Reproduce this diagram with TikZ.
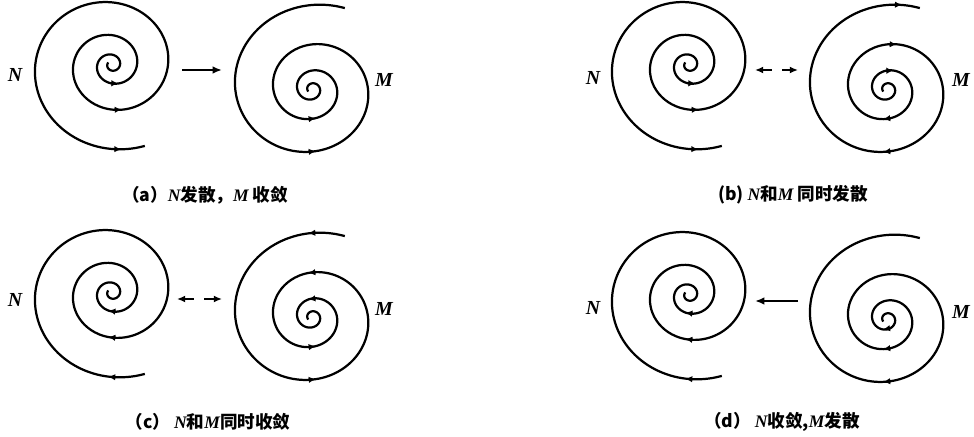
\documentclass[tikz,border=0pt]{standalone}
\usepackage{fontspec}
\setmainfont{Liberation Serif}
\newfontfamily\cjk{Noto Sans CJK SC}
\usetikzlibrary{arrows.meta}

% radius of a spiral after #1 turns
\newcommand{\rad}[1]{(8+10*(#1)+7*(#1)*(#1))}
% spiral round (#1,#2); #3 = 1 opens anticlockwise (N), -1 mirrored (M)
\newcommand{\spiral}[3]{%
  \draw[curve] plot[domain=-0.6:2.81, samples=220, smooth]
    ({#1+\rad{\x}*cos(360*\x)}, {#2+#3*0.95*\rad{\x}*sin(360*\x)});}
% arrow tip on a spiral at turn #4, #5 > 0 outwards, #5 < 0 inwards
\newcommand{\spiraltip}[5]{%
  \pgfmathsetmacro{\ta}{#4-(#5)/\rad{#4}}%
  \pgfmathsetmacro{\tc}{#4+(#5)/\rad{#4}}%
  \path ({#1+\rad{\ta}*cos(360*\ta)}, {#2+#3*0.95*\rad{\ta}*sin(360*\ta)}) coordinate (ta)
        ({#1+\rad{\tc}*cos(360*\tc)}, {#2+#3*0.95*\rad{\tc}*sin(360*\tc)}) coordinate (tc);
  \draw[curve, tip] (ta) -- (tc);}

\begin{document}
\begin{tikzpicture}[x=0.3mm, y=0.3mm,
    curve/.style={line width=1.9pt},
    tip/.style={-{Latex[length=6pt,width=5.5pt]}},
    link/.style={line width=1.9pt, -{Latex[length=8pt,width=6.5pt]}},
    both/.style={line width=1.9pt, {Latex[length=7pt,width=6pt]}-{Latex[length=7pt,width=6pt]},
                 dash pattern=on 8pt off 9pt},
    lab/.style={font=\fontsize{17}{19}\selectfont\bfseries\itshape},
    captext/.style={font=\fontsize{15}{17}\selectfont\cjk\bfseries}]
  \useasboundingbox (0,0) rectangle (974,437);
  % --- (a) N diverges, M converges ---
  \spiral{112}{372}{1}
  \foreach \pos in {0.77,1.77,2.76} {\spiraltip{112}{372}{1}{\pos}{0.6}}
  \spiral{312}{348}{-1}
  \foreach \pos in {1.25,2.25} {\spiraltip{312}{348}{-1}{\pos}{-0.6}}
  \node[lab] (aN) at (15,362) {N};
  \node[lab] (aM) at (384,357) {M};
  \coordinate (aL) at (182,367);
  \coordinate (aR) at (222,367);
  \draw[link] (aL) -- (aR);
  \node[captext] (capa) at (205,242) {（a）{\rmfamily\itshape N}发散，{\rmfamily\itshape M} 收敛};
  % --- (b) both diverge ---
  \spiral{689}{372}{1}
  \foreach \pos in {0.77,1.77,2.76} {\spiraltip{689}{372}{1}{\pos}{0.6}}
  \spiral{887}{348}{-1}
  \foreach \pos in {0.77,1.77,2.77,1.25,2.25} {\spiraltip{887}{348}{-1}{\pos}{0.6}}
  \node[lab] (bN) at (593,359) {N};
  \node[lab] (bM) at (961,357) {M};
  \coordinate (bL) at (755,367);
  \coordinate (bR) at (798,367);
  \draw[both] (bL) -- (bR);
  \node[captext] (capb) at (793,242) {(b) {\rmfamily\itshape N}和{\rmfamily\itshape M} 同时发散};
  % --- (c) both converge ---
  \spiral{112}{144}{1}
  \foreach \pos in {0.75,1.75,2.75} {\spiraltip{112}{144}{1}{\pos}{-0.6}}
  \spiral{312}{120}{-1}
  \foreach \pos in {0.75,1.75,2.75,1.25,2.25} {\spiraltip{312}{120}{-1}{\pos}{-0.6}}
  \node[lab] (cN) at (15,137) {N};
  \node[lab] (cM) at (384,128) {M};
  \coordinate (cL) at (177,138);
  \coordinate (cR) at (222,138);
  \draw[both] (cL) -- (cR);
  \node[captext] (capc) at (208,15) {（c） {\rmfamily\itshape N}和{\rmfamily\itshape M}同时收敛};
  % --- (d) N converges, M diverges ---
  \spiral{689}{142}{1}
  \foreach \pos in {0.75,1.75,2.75} {\spiraltip{689}{142}{1}{\pos}{-0.6}}
  \spiral{887}{118}{-1}
  \foreach \pos in {0.25,1.25,2.25} {\spiraltip{887}{118}{-1}{\pos}{0.6}}
  \node[lab] (dN) at (593,129) {N};
  \node[lab] (dM) at (961,125) {M};
  \coordinate (dR) at (798,136);
  \coordinate (dL) at (755,136);
  \draw[link] (dR) -- (dL);
  \node[captext] (capd) at (782,15) {（d） {\rmfamily\itshape N}收敛,{\rmfamily\itshape M}发散};
\end{tikzpicture}
\end{document}
